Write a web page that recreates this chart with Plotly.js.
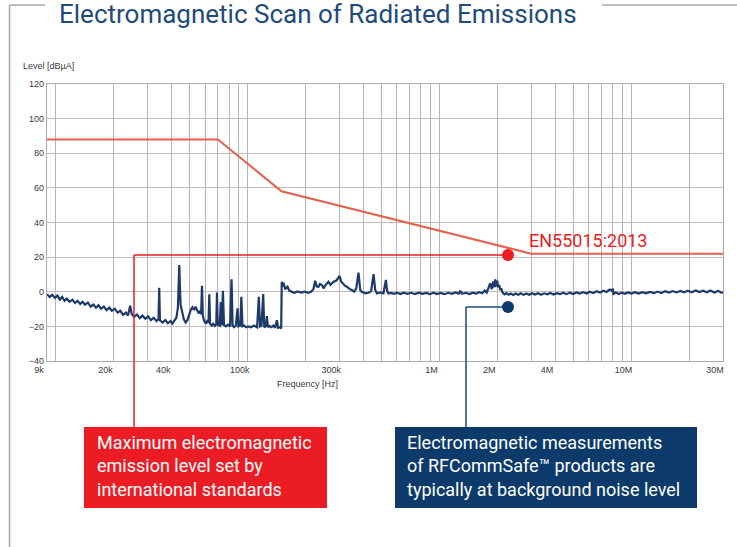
<!DOCTYPE html>
<html><head><meta charset="utf-8">
<script src="https://cdn.plot.ly/plotly-3.0.1.min.js"></script>
<style>html,body{margin:0;padding:0;background:#fff;}#chart{width:737px;height:547px;}</style>
</head><body><div id="chart"></div>
<script>
// ---- data ----
var limitFreqHz = [9000, 70000, 150000, 3000000, 30000000];
var limitLevel = [88, 88, 58, 22, 22];

var scanFreqKHz = [9.0,9.3,9.6,9.9,10.2,10.5,10.8,11.1,11.4,11.8,12.2,12.6,13.0,13.4,13.8,14.2,14.7,15.2,15.7,16.2,16.7,17.2,17.8,18.4,19.0,19.6,20.3,21.0,21.7,22.4,23.2,23.8,24.4,24.9,25.6,26.5,27.4,28.3,29.3,30.3,31.3,32.4,33.5,34.3,34.6,34.9,36.0,37.2,38.4,39.6,40.5,41.5,42.5,43.3,44.0,44.7,45.6,46.5,47.5,48.5,49.5,50.5,51.5,52.5,53.5,54.5,55.5,56.5,57.2,57.8,58.4,59.4,60.5,61.5,62.5,63.1,63.7,65.0,66.2,67.5,68.6,69.2,69.8,71.5,72.4,73.3,74.3,75.3,77.0,79.0,81.0,82.4,83.5,85.0,86.8,88.5,89.5,91.5,92.7,94.0,96.0,98.0,101,104,108,112,114.3,116,118,120.5,122,124.5,125.9,127.5,130,133,136,139,142,144,147,149.5,150.5,152,153.8,157,161.4,165,170,175,182,190,198,206,214,220,224.9,229,233.9,238,243.8,248.4,256,263.7,270,280.5,290,301.2,307,313.6,321,328.9,340,349.3,359,368,378,386,393.6,410,426.6,440,452.9,462,472,490,510,525.3,533,541.7,560,580,600,625,650,680,710,745,780,815,850,890,930,970,1010,1060,1110,1160,1210,1260,1282,1310,1370,1430,1490,1550,1610,1670,1720,1760,1800,1836,1870,1905,1930,1950,1975,1998,2020,2047,2070,2096,2130,2180,2230,2290,2350,2420,2490,2570,2650,2740,2830,2930,3030,3140,3260,3380,3510,3640,3780,3930,4080,4240,4410,4590,4780,4970,5170,5380,5600,5830,6070,6320,6580,6850,7130,7420,7700,7900,8000,8060,8300,8600,8900,9250,9600,10000,10400,10900,11400,11900,12500,13100,13700,14300,15000,15700,16400,17200,18000,18800,19700,20600,21600,22600,23600,24700,25800,27000,28300,29500,30000];
var scanLevel = [-1.5,-3.0,-1.8,-3.6,-2.2,-4.5,-3.0,-5.2,-4.0,-5.8,-4.6,-6.5,-5.2,-7.0,-5.8,-7.5,-6.2,-8.6,-7.4,-9.2,-7.8,-9.8,-8.5,-10.6,-9.2,-11.0,-9.8,-12.0,-11.0,-13.4,-12.0,-13.8,-8.0,-13.0,-14.5,-13.2,-15.2,-13.8,-15.6,-14.2,-16.4,-15.0,-17.0,-15.8,2.3,-16.5,-17.8,-16.4,-18.2,-17.0,-18.4,-16.5,-15.0,-9.0,15.5,-7.5,-12.5,-16.0,-17.8,-16.4,-13.5,-10.5,-9.0,-10.5,-8.7,-11.0,-12.5,-11.0,-13.0,3.5,-14.0,-17.0,-18.5,-17.0,-18.0,-1.5,-18.5,-19.5,-18.5,-19.8,-18.8,-0.4,-19.0,-19.6,-6.0,-19.5,0.6,-19.2,-20.0,-19.0,-20.0,7.2,-19.5,-20.5,-19.5,-9.6,-20.0,-19.5,-2.9,-20.0,-19.5,-20.5,-20.0,-20.5,-19.5,-20.6,-2.9,-20.0,-19.5,-1.3,-20.5,-19.8,-14.0,-20.5,-19.8,-20.5,-19.5,-20.8,-16.4,-20.8,-20.5,-21.2,5.8,3.0,5.2,1.5,2.9,0.5,0.0,-0.6,0.2,-0.5,0.1,-0.6,0.0,1.5,6.4,3.0,2.9,4.5,3.9,2.0,4.2,5.8,4.0,5.8,6.5,9.1,6.0,4.8,3.5,2.9,1.5,1.0,0.0,2.0,11.0,1.0,0.0,-0.9,-0.6,0.4,10.2,1.0,-1.0,-0.4,-0.9,6.8,0.5,-1.0,-0.7,-1.2,-0.6,-1.3,-0.5,-1.2,-0.6,-1.3,-0.5,-1.2,-0.7,-1.4,-0.6,-1.3,-0.7,-1.4,-0.6,-1.2,-0.4,-1.1,0.6,-1.2,-0.6,-1.3,-0.5,-1.1,-0.3,-0.9,0.8,-0.5,2.0,4.9,1.5,6.0,2.5,7.2,3.0,6.4,2.5,4.0,1.0,2.0,-0.5,-1.5,-0.8,-1.7,-1.0,-1.8,-1.0,-1.7,-0.9,-1.8,-1.0,-1.7,-0.9,-1.6,-0.8,-1.7,-0.9,-1.5,-0.7,-1.6,-0.8,-1.4,-0.6,-1.4,-0.5,-1.3,-0.4,-1.1,-0.2,-1.0,0.0,-0.8,0.3,-0.5,0.6,-0.1,1.3,0.6,1.8,-1.2,-0.4,-1.3,-0.5,-1.2,-0.4,-1.1,-0.3,-1.0,-0.2,-0.9,-0.1,-0.8,0.1,-0.7,0.3,-0.5,0.4,-0.4,0.5,-0.3,0.6,-0.3,0.7,-0.2,0.6,-0.3,0.7,-0.4,0.5,-0.6,-0.2];

var tickLabelValues = [9000, 20000, 40000, 100000, 300000, 1000000, 2000000, 4000000, 10000000, 30000000];
var tickLabelTexts = ['9k', '20k', '40k', '100k', '300k', '1M', '2M', '4M', '10M', '30M'];
var yTickValues = [-40, -20, 0, 20, 40, 60, 80, 100, 120];

// ---- build grid ticks: 1..9 per decade from 10k to 30M ----
var tickvals = [], ticktext = [];
var labelMap = {};
tickLabelValues.forEach(function (v, i) { labelMap[v] = tickLabelTexts[i]; });
var gridSet = [9000];
for (var d = 4; d <= 7; d++) {
  for (var m = 1; m <= 9; m++) {
    var v = m * Math.pow(10, d);
    if (v <= 30000000) gridSet.push(v);
  }
}
gridSet.forEach(function (v) { tickvals.push(v); ticktext.push(labelMap[v] || ''); });

var scanFreqHz = scanFreqKHz.map(function (k) { return k * 1000; });

// ---- pixel helpers for decoration (plot area: l=47, r=14, t=84, b=186) ----
var W = 737, H = 547, ML = 47, MR = 14, MT = 84, MB = 186;
var PW = W - ML - MR, PH = H - MT - MB;
function px(x) { return (x - ML) / PW; }
function py(y) { return (H - MB - y) / PH; }
function seg(x0, y0, x1, y1, color, w) {
  return {type: 'line', xref: 'paper', yref: 'paper', x0: px(x0), y0: py(y0), x1: px(x1), y1: py(y1),
          line: {color: color, width: w}, layer: 'above'};
}
function dot(cx, cy, r, color) {
  return {type: 'circle', xref: 'paper', yref: 'paper', x0: px(cx - r), x1: px(cx + r), y0: py(cy + r), y1: py(cy - r),
          fillcolor: color, line: {color: color, width: 0}, layer: 'above'};
}
function rect(x0, y0, x1, y1, color) {
  return {type: 'rect', xref: 'paper', yref: 'paper', x0: px(x0), x1: px(x1), y0: py(y1), y1: py(y0),
          fillcolor: color, line: {width: 0}, layer: 'above'};
}

var RED = '#ec1c24', NAVY = '#0b3a6b', FRAME = '#a8a8a8';
var tickFont = {family: 'Liberation Sans, Arial, sans-serif', size: 9, color: '#3a3a3a'};
var boxFont = {family: 'Roboto, sans-serif', size: 18, color: '#ffffff'};

var traces = [
  {x: limitFreqHz, y: limitLevel, type: 'scatter', mode: 'lines',
   line: {color: '#e5604c', width: 2}, hoverinfo: 'skip'},
  {x: scanFreqHz, y: scanLevel, type: 'scatter', mode: 'lines',
   line: {color: '#1d3a6b', width: 2.2}, hoverinfo: 'skip'}
];

var layout = {
  width: W, height: H,
  margin: {l: ML, r: MR, t: MT, b: MB, pad: 0},
  paper_bgcolor: '#ffffff', plot_bgcolor: '#ffffff',
  showlegend: false,
  xaxis: {
    type: 'log', range: [Math.log10(9000), Math.log10(30000000)],
    tickmode: 'array', tickvals: tickvals, ticktext: ticktext,
    ticks: '', showgrid: true, gridcolor: '#bab3b1', gridwidth: 1,
    showline: true, mirror: true, linecolor: '#b0a9a7', linewidth: 1.2,
    zeroline: false, tickfont: tickFont, ticklabelshift: -8, fixedrange: true
  },
  yaxis: {
    range: [-40, 120], tickmode: 'array', tickvals: yTickValues,
    ticks: '', showgrid: true, gridcolor: '#c2bbb9', gridwidth: 1,
    showline: true, mirror: true, linecolor: '#b0a9a7', linewidth: 1.2,
    zeroline: false, tickfont: tickFont, fixedrange: true
  },
  shapes: [
    seg(9.5, 5, 45, 5, FRAME, 1.5),
    seg(602, 5, 737, 5, FRAME, 1.5),
    seg(9.5, 5, 9.5, 547, FRAME, 1.5),
    seg(134, 255, 508, 255, RED, 1.5),
    seg(134, 255, 134, 427, RED, 1.5),
    dot(508, 255, 6, RED),
    seg(466, 307, 508, 307, '#1d4a7a', 1.5),
    seg(466, 307, 466, 427, '#1d4a7a', 1.5),
    dot(508, 307, 6, NAVY),
    rect(84, 427, 327, 508, RED),
    rect(395, 427, 697, 508, NAVY)
  ],
  annotations: [
    {text: 'Electromagnetic Scan of Radiated Emissions', xref: 'paper', yref: 'paper',
     x: px(57), y: py(14), xanchor: 'left', yanchor: 'middle', showarrow: false,
     font: {family: 'Roboto, sans-serif', size: 26, color: '#1f4a7c'}},
    {text: 'Level [dBµA]', xref: 'paper', yref: 'paper', x: px(21), y: py(66),
     xanchor: 'left', yanchor: 'middle', showarrow: false, font: tickFont},
    {text: 'Frequency [Hz]', xref: 'paper', yref: 'paper', x: px(307), y: py(383.5),
     xanchor: 'center', yanchor: 'middle', showarrow: false, font: tickFont},
    {text: 'EN55015:2013', xref: 'paper', yref: 'paper', x: px(527), y: py(240),
     xanchor: 'left', yanchor: 'middle', showarrow: false,
     font: {family: 'Roboto, sans-serif', size: 18, color: RED}},
    {text: 'Maximum electromagnetic<br>emission level set by<br>international standards',
     xref: 'paper', yref: 'paper', x: px(95), y: py(466), xanchor: 'left', yanchor: 'middle',
     align: 'left', showarrow: false, font: boxFont},
    {text: 'Electromagnetic measurements<br>of RFCommSafe™ products are<br>typically at background noise level',
     xref: 'paper', yref: 'paper', x: px(405), y: py(466), xanchor: 'left', yanchor: 'middle',
     align: 'left', showarrow: false, font: boxFont}
  ]
};

Plotly.newPlot('chart', traces, layout, {staticPlot: true, displayModeBar: false});
</script></body></html>
